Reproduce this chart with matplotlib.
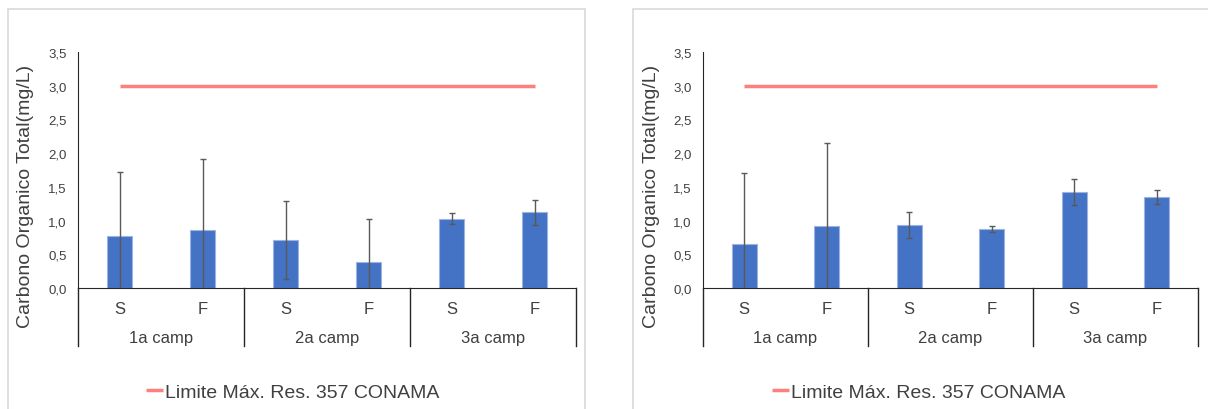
import matplotlib.pyplot as plt
from matplotlib.patches import Rectangle
from matplotlib.ticker import FuncFormatter

plt.rcParams['font.family'] = ['Liberation Sans', 'DejaVu Sans']

# --- data ---
amostras = ['S', 'F', 'S', 'F', 'S', 'F']
campanhas = ['1a camp', '2a camp', '3a camp']

cot_esq = [0.77, 0.86, 0.71, 0.39, 1.03, 1.12]
erro_esq = [0.95, 1.06, 0.58, 0.63, 0.08, 0.18]

cot_dir = [0.65, 0.92, 0.93, 0.875, 1.42, 1.35]
erro_dir = [1.05, 1.23, 0.19, 0.04, 0.19, 0.11]

limite = [3.0, 3.0, 3.0, 3.0, 3.0, 3.0]
limite_nome = 'Limite Máx. Res. 357 CONAMA'
ylabel = 'Carbono Organico Total(mg/L)'

W, H = 1208, 410
BLUE = '#4472C4'
RED = '#FF7F7F'
TXT = '#404040'


def panel(fig, px_left, px_right, box_left, box_right, valores, erros, ylab_x):
    ax = fig.add_axes([px_left / W, (H - 289) / H, (px_right - px_left) / W, 236 / H])
    x = list(range(len(valores)))
    ax.bar(x, valores, width=0.3, color=BLUE, edgecolor='#9db3e2', linewidth=0.8, zorder=2)
    ax.errorbar(x, valores, yerr=erros, fmt='none', ecolor='#595959',
                elinewidth=1, capsize=2, capthick=1, zorder=3)
    linha, = ax.plot(x, limite, color=RED, lw=2.5, solid_capstyle='butt', zorder=4)

    ax.set_xlim(-0.5, 5.5)
    ax.set_ylim(0, 3.5)
    ax.set_yticks([i * 0.5 for i in range(8)])
    ax.yaxis.set_major_formatter(FuncFormatter(lambda v, p: f'{v:.1f}'.replace('.', ',')))
    ax.tick_params(axis='y', length=0, pad=8, labelsize=9.5, labelcolor=TXT)
    ax.set_xticks([])
    for s in ['top', 'right']:
        ax.spines[s].set_visible(False)
    ax.spines['left'].set_color('#262626')
    ax.spines['bottom'].set_color('#262626')

    # two-level category axis
    tr = ax.get_xaxis_transform()
    sep_y = -58 / 236
    for xs in [-0.5, 1.5, 3.5, 5.5]:
        ax.plot([xs, xs], [0, sep_y], transform=tr, color='#262626', lw=1, clip_on=False)
    for i, lab in enumerate(amostras):
        ax.text(i, -21 / 236, lab, transform=tr, ha='center', va='center',
                fontsize=12, color=TXT)
    for j, lab in enumerate(campanhas):
        ax.text(2 * j + 0.5, -50 / 236, lab, transform=tr, ha='center', va='center',
                fontsize=12, color=TXT)

    fig.text(ylab_x / W, (H - 196) / H, ylabel, rotation=90, ha='center', va='center',
             fontsize=14, color=TXT)

    cx = (box_left + box_right) / 2 / W
    fig.legend([linha], [limite_nome], loc='center', bbox_to_anchor=(cx - 4 / W, (H - 393) / H),
               frameon=False, fontsize=14, handlelength=0.9, handletextpad=0.1,
               labelcolor=TXT)

    # light chart-area border (bottom edge lies below the picture)
    fig.add_artist(Rectangle((box_left / W, -0.1), (box_right - box_left) / W, (H - 10) / H + 0.1,
                             transform=fig.transFigure, fill=False,
                             edgecolor='#d9d9d9', lw=1.2))
    return ax


fig = plt.figure(figsize=(W / 100, H / 100), dpi=100)
panel(fig, 78, 576, 8, 585, cot_esq, erro_esq, 26)
panel(fig, 703, 1198, 633, 1212, cot_dir, erro_dir, 651)
fig.savefig('out.png', dpi=100)
